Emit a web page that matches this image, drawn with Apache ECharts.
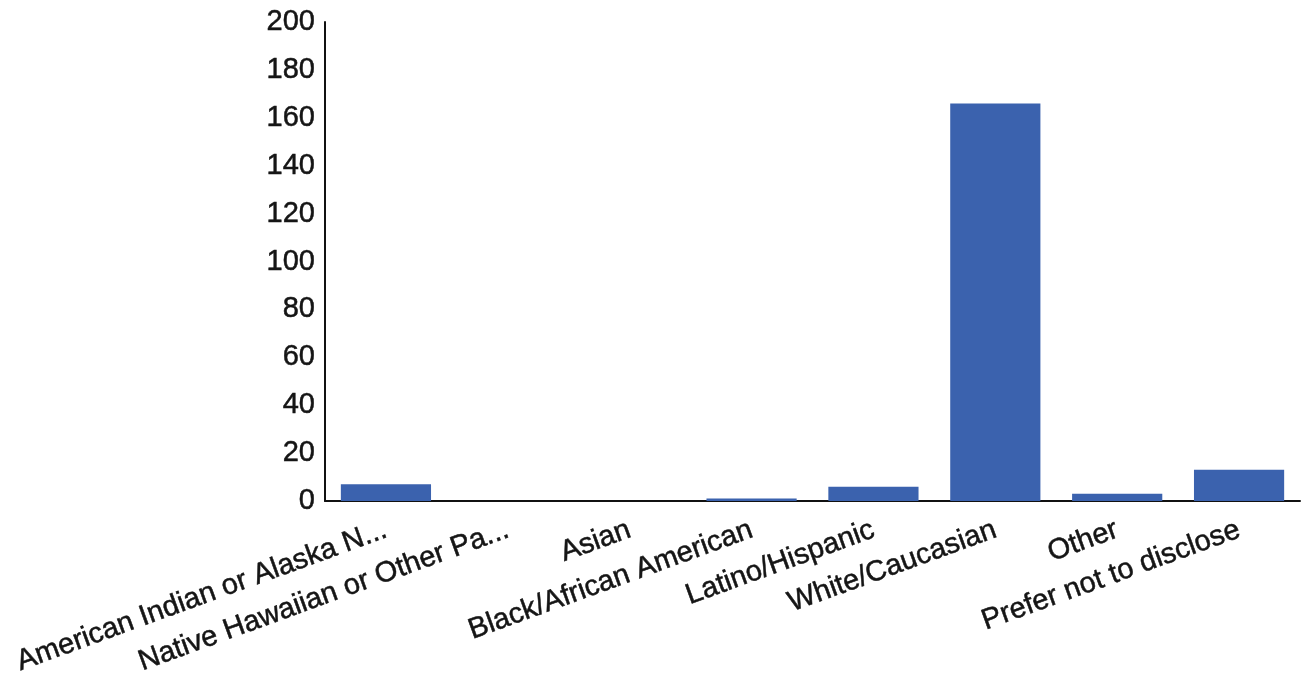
<!DOCTYPE html>
<html>
<head>
    <meta charset="utf-8">
    <title>Ethnicity</title>
    <script src="https://cdn.jsdelivr.net/npm/echarts@6/dist/echarts.min.js"></script>
    <style>
        html, body { margin: 0; padding: 0; background: #fff; }
        #chart { width: 1307px; height: 675px; }
    </style>
</head>
<body>
<div id="chart"></div>
<script type="text/javascript">
    // categories and counts
    var categories = [
        'American Indian or Alaska N...',
        'Native Hawaiian or Other Pa...',
        'Asian',
        'Black/African American',
        'Latino/Hispanic',
        'White/Caucasian',
        'Other',
        'Prefer not to disclose'
    ];
    var counts = [7, 0, 0, 1, 6, 166, 3, 13];
    var yMin = 0, yMax = 200, yStep = 20;

    // scanned look: text slightly thickened
    var labelFont = {
        color: '#151515',
        fontSize: 29,
        fontFamily: 'Liberation Sans, Arial, sans-serif',
        textBorderColor: '#151515',
        textBorderWidth: 0.5
    };

    var myChart = echarts.init(document.getElementById('chart'));
    myChart.setOption({
        animation: false,
        grid: { left: 325, right: 7, top: 22, bottom: 174, outerBoundsMode: 'none' },
        xAxis: {
            type: 'category',
            data: categories,
            axisLine: { lineStyle: { color: '#111', width: 2 } },
            axisTick: { alignWithLabel: true, length: 4, lineStyle: { color: '#111' } },
            axisLabel: Object.assign({ interval: 0, rotate: 20, margin: 28 }, labelFont)
        },
        yAxis: {
            type: 'value',
            min: yMin,
            max: yMax,
            interval: yStep,
            splitLine: { show: false },
            axisTick: { show: false },
            axisLine: { show: true, lineStyle: { color: '#111', width: 2 } },
            axisLabel: Object.assign({ margin: 10 }, labelFont)
        },
        series: [{
            type: 'bar',
            data: counts,
            barWidth: '74%',
            itemStyle: { color: '#3b62ae' }
        }]
    });
</script>
</body>
</html>
